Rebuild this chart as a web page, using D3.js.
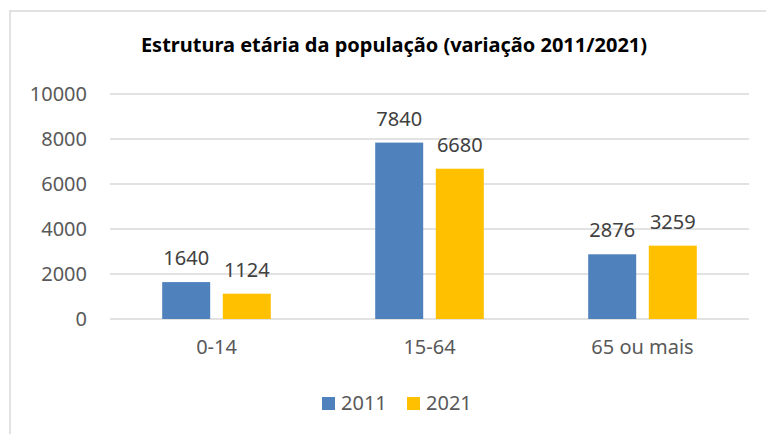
<!DOCTYPE html>
<html>
<head>
<meta charset="utf-8">
<script src="https://cdn.jsdelivr.net/npm/d3@7"></script>
<style>
  body { margin: 0; background: #fff; }
  text { font-family: "Noto Sans", sans-serif; }
</style>
</head>
<body>
<div id="chart-area"></div>
<script>
// data
var categories = ["0-14", "15-64", "65 ou mais"];
var seriesNames = ["2011", "2021"];
var values2011 = [1640, 7840, 2876];
var values2021 = [1124, 6680, 3259];
var yTicks = [0, 2000, 4000, 6000, 8000, 10000];
var colors = ["#4F81BD", "#FFC000"];

var W = 766, H = 434;
var margin = { left: 110, right: 17, top: 94, bottom: 115 };
var width = W - margin.left - margin.right,
    height = H - margin.top - margin.bottom;

var svg = d3.select("#chart-area")
  .append("svg")
    .attr("width", W)
    .attr("height", H);

// chart border
svg.append("rect")
  .attr("x", 10).attr("y", 11)
  .attr("width", W + 20).attr("height", H + 20)
  .attr("fill", "none")
  .attr("stroke", "#D9D9D9")
  .attr("stroke-width", 1.5);

// title
svg.append("text")
  .attr("x", 394)
  .attr("y", 52)
  .attr("text-anchor", "middle")
  .attr("font-size", "20px")
  .attr("font-weight", "bold")
  .attr("fill", "#000")
  .text("Estrutura etária da população (variação 2011/2021)");

var g = svg.append("g")
  .attr("transform", "translate(" + margin.left + "," + margin.top + ")");

var y = d3.scaleLinear().domain([0, 10000]).range([height, 0]);

var x0 = d3.scaleBand().domain(categories).range([0, width]);
var x1 = d3.scaleBand().domain(seriesNames).range([-54.3, 54.3]).paddingInner(0.208);

// gridlines
g.selectAll(".grid")
  .data(yTicks)
  .enter().append("line")
    .attr("class", "grid")
    .attr("x1", 0).attr("x2", width)
    .attr("y1", function(d){ return y(d) })
    .attr("y2", function(d){ return y(d) })
    .attr("stroke", "#D9D9D9")
    .attr("stroke-width", 1.5);

// y axis
var yAxis = d3.axisLeft(y).tickValues(yTicks).tickFormat(d3.format("d")).tickSize(0).tickPadding(23);
var yG = g.append("g").call(yAxis);
yG.select(".domain").remove();
yG.selectAll("text").attr("font-size", "20px").attr("fill", "#595959").attr("font-family", "Noto Sans");

// x axis
var xAxis = d3.axisBottom(x0).tickSize(0).tickPadding(21);
var xG = g.append("g").attr("transform", "translate(0," + height + ")").call(xAxis);
xG.select(".domain").remove();
xG.selectAll("text").attr("font-size", "20px").attr("fill", "#595959").attr("font-family", "Noto Sans");

var rows = categories.map(function(c, i){
  return { cat: c, vals: [
    { s: seriesNames[0], v: values2011[i] },
    { s: seriesNames[1], v: values2021[i] }
  ]};
});

var groups = g.selectAll(".grp")
  .data(rows)
  .enter().append("g")
    .attr("class", "grp")
    .attr("transform", function(d){ return "translate(" + (x0(d.cat) + x0.bandwidth() / 2) + ",0)" });

groups.selectAll("rect")
  .data(function(d){ return d.vals })
  .enter().append("rect")
    .attr("x", function(d){ return x1(d.s) })
    .attr("y", function(d){ return y(d.v) })
    .attr("width", x1.bandwidth())
    .attr("height", function(d){ return height - y(d.v) })
    .attr("fill", function(d, i){ return colors[i] });

groups.selectAll(".lbl")
  .data(function(d){ return d.vals })
  .enter().append("text")
    .attr("class", "lbl")
    .attr("x", function(d){ return x1(d.s) + x1.bandwidth() / 2 })
    .attr("y", function(d){ return y(d.v) - 17 })
    .attr("text-anchor", "middle")
    .attr("font-size", "20px")
    .attr("fill", "#404040")
    .text(function(d){ return d.v });

// legend
var legX = [322, 407];
var leg = svg.selectAll(".leg")
  .data(seriesNames)
  .enter().append("g")
    .attr("class", "leg")
    .attr("transform", function(d, i){ return "translate(" + legX[i] + ",397)" });
leg.append("rect")
  .attr("width", 13).attr("height", 13)
  .attr("fill", function(d, i){ return colors[i] });
leg.append("text")
  .attr("x", 19).attr("y", 13)
  .attr("font-size", "20px")
  .attr("fill", "#595959")
  .text(function(d){ return d });
</script>
</body>
</html>
